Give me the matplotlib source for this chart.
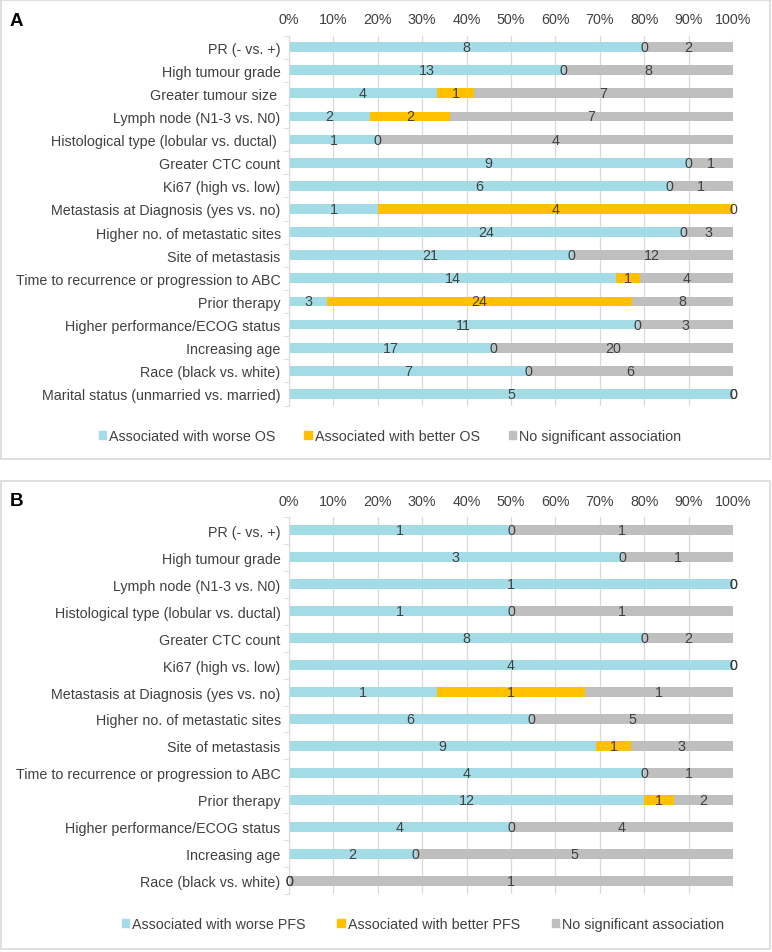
import numpy as np
import matplotlib
matplotlib.use("Agg")
import matplotlib.pyplot as plt
from matplotlib.patches import Rectangle, Patch

plt.rcParams["font.family"] = ["Liberation Sans", "DejaVu Sans"]

W, H = 772, 953

# ---- data: panel A (OS) ----
cats_a = ["PR (- vs. +)", "High tumour grade", "Greater tumour size ", "Lymph node (N1-3 vs. N0)",
          "Histological type (lobular vs. ductal) ", "Greater CTC count", "Ki67 (high vs. low)",
          "Metastasis at Diagnosis (yes vs. no)", "Higher no. of metastatic sites", "Site of metastasis",
          "Time to recurrence or progression to ABC", "Prior therapy", "Higher performance/ECOG status",
          "Increasing age", "Race (black vs. white)", "Marital status (unmarried vs. married)"]
worse_a = [8, 13, 4, 2, 1, 9, 6, 1, 24, 21, 14, 3, 11, 17, 7, 5]
better_a = [0, 0, 1, 2, 0, 0, 0, 4, 0, 0, 1, 24, 0, 0, 0, 0]
nosig_a = [2, 8, 7, 7, 4, 1, 1, 0, 3, 12, 4, 8, 3, 20, 6, 0]

# ---- data: panel B (PFS) ----
cats_b = ["PR (- vs. +)", "High tumour grade", "Lymph node (N1-3 vs. N0)",
          "Histological type (lobular vs. ductal)", "Greater CTC count", "Ki67 (high vs. low)",
          "Metastasis at Diagnosis (yes vs. no)", "Higher no. of metastatic sites", "Site of metastasis",
          "Time to recurrence or progression to ABC", "Prior therapy", "Higher performance/ECOG status",
          "Increasing age", "Race (black vs. white)"]
worse_b = [1, 3, 1, 1, 8, 4, 1, 6, 9, 4, 12, 4, 2, 0]
better_b = [0, 0, 0, 0, 0, 0, 1, 0, 1, 0, 1, 0, 0, 0]
nosig_b = [1, 1, 0, 1, 2, 0, 1, 5, 3, 1, 2, 4, 5, 1]

BLUE, GOLD, GREY = "#A3DCE6", "#FFC000", "#BFBFBF"
TXT = "#404040"
FS = 10.3


def fx(x):
    return x / W


def fy(y):
    return 1 - y / H


def panel(fig, box, axbox, letter, cats, series, bar_h):
    # outer frame
    x0, y0, x1, y1 = box
    fig.add_artist(Rectangle((fx(x0), fy(y1)), fx(x1 - x0), (y1 - y0) / H,
                             transform=fig.transFigure, fill=False, edgecolor="#D9D9D9", lw=1.2))
    fig.text(fx(x0 + 9), fy(y0 + 20), letter, fontsize=13.5, fontweight="bold", va="center", ha="left")

    ax0, ay0, ax1, ay1 = axbox
    ax = fig.add_axes([fx(ax0), fy(ay1), fx(ax1 - ax0), (ay1 - ay0) / H])
    n = len(cats)
    y = np.arange(n)
    tot = np.array(series[0]) + np.array(series[1]) + np.array(series[2])
    left = np.zeros(n)
    for vals, col in zip(series, [BLUE, GOLD, GREY]):
        pct = np.array(vals) / tot * 100
        ax.barh(y, pct, left=left, height=bar_h, color=col, zorder=2)
        for i in range(n):
            ax.text(left[i] + pct[i] / 2, y[i], str(vals[i]), ha="center", va="center",
                    fontsize=FS, color=TXT, zorder=3)
        left = left + pct

    ax.set_ylim(n - 0.5, -0.5)
    ax.set_xlim(0, 100)
    ax.set_yticks(y)
    ax.set_yticklabels(cats, fontsize=FS, color=TXT)
    ax.set_yticks(np.arange(n + 1) - 0.5, minor=True)
    ax.tick_params(axis="y", which="major", length=0, pad=6)
    ax.tick_params(axis="y", which="minor", length=4, color="#D9D9D9")
    ax.xaxis.tick_top()
    ax.set_xticks(np.arange(0, 101, 10))
    ax.set_xticklabels([f"{v}%" for v in range(0, 101, 10)], fontsize=FS, color=TXT)
    ax.tick_params(axis="x", length=0, pad=6.5)
    ax.grid(axis="x", color="#D9D9D9", lw=0.9, zorder=0)
    for s in ["top", "right", "bottom"]:
        ax.spines[s].set_visible(False)
    ax.spines["left"].set_color("#D9D9D9")

    handles = [Patch(color=c) for c in [BLUE, GOLD, GREY]]
    return ax, handles


fig = plt.figure(figsize=(W / 100, H / 100), dpi=100)

ax_a, h = panel(fig, (1, 1, 770, 460), (289, 36.5, 733, 406.5), "A", cats_a,
                [worse_a, better_a, nosig_a], 0.42)
fig.legend(h, ["Associated with worse OS", "Associated with better OS", "No significant association"],
           loc="center", bbox_to_anchor=(fx(390), fy(437)), ncol=3, frameon=False, fontsize=FS,
           handlelength=0.55, handleheight=0.55, handletextpad=0.2, columnspacing=2.0,
           labelcolor=TXT)

ax_b, h = panel(fig, (1, 482, 770, 950), (289, 518, 733, 895), "B", cats_b,
                [worse_b, better_b, nosig_b], 0.37)
fig.legend(h, ["Associated with worse PFS", "Associated with better PFS", "No significant association"],
           loc="center", bbox_to_anchor=(fx(423), fy(925)), ncol=3, frameon=False, fontsize=FS,
           handlelength=0.55, handleheight=0.55, handletextpad=0.2, columnspacing=2.2,
           labelcolor=TXT)

fig.savefig("out.png", dpi=100)
